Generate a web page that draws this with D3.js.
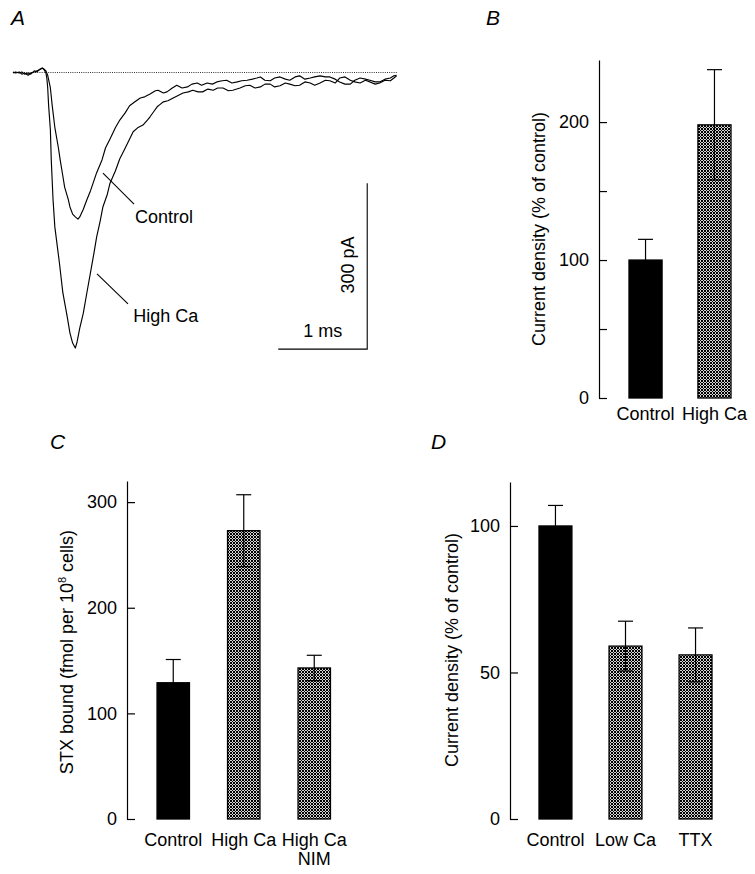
<!DOCTYPE html>
<html><head><meta charset="utf-8">
<script src="https://cdn.jsdelivr.net/npm/d3@7"></script>
<style>
body{margin:0;background:#fff}
svg{display:block}
text{font-family:"Liberation Sans",Arial,Helvetica,sans-serif;fill:#000}
</style>
</head><body>
<svg id="chart" width="755" height="874"></svg>
<script>
// ---------- Panel A: current traces [time (ms), current (pA)] ----------
const traceHighCa = [[0.00,1],[0.03,-1],[0.07,1],[0.10,-3],[0.13,-1],[0.17,-5],[0.20,-1],[0.24,1],[0.27,3],[0.30,5],[0.33,8],[0.35,5],[0.37,-1],[0.38,-10],[0.39,-28],[0.40,-59],[0.42,-104],[0.43,-158],[0.45,-230],[0.47,-279],[0.52,-342],[0.56,-398],[0.61,-442],[0.64,-471],[0.67,-489],[0.70,-498],[0.72,-487],[0.75,-462],[0.79,-435],[0.83,-398],[0.87,-362],[0.91,-326],[0.94,-297],[0.98,-268],[1.01,-243],[1.06,-220],[1.09,-200],[1.15,-178],[1.20,-156],[1.25,-140],[1.29,-127],[1.35,-107],[1.40,-100],[1.46,-95],[1.51,-86],[1.54,-80],[1.58,-71],[1.62,-62],[1.65,-58],[1.69,-53],[1.74,-51],[1.80,-46],[1.85,-42],[1.91,-37],[1.97,-35],[2.02,-32],[2.08,-35],[2.13,-35],[2.19,-30],[2.25,-32],[2.30,-28],[2.36,-28],[2.42,-33],[2.47,-32],[2.55,-28],[2.61,-24],[2.66,-23],[2.72,-28],[2.78,-26],[2.83,-21],[2.89,-21],[2.94,-26],[3.00,-24],[3.06,-19],[3.11,-21],[3.17,-24],[3.22,-23],[3.28,-17],[3.34,-19],[3.39,-23],[3.45,-19],[3.51,-14],[3.56,-15],[3.62,-19],[3.67,-10],[3.73,-8],[3.79,-14],[3.84,-17],[3.90,-19],[3.96,-14],[4.01,-17],[4.07,-21],[4.12,-19],[4.18,-14],[4.24,-15],[4.28,-10],[4.31,-6]];
const traceControl = [[0.00,-1],[0.03,1],[0.07,-1],[0.10,1],[0.13,-3],[0.17,-1],[0.20,-3],[0.24,3],[0.27,1],[0.30,6],[0.33,8],[0.35,6],[0.37,3],[0.39,-5],[0.42,-28],[0.44,-59],[0.47,-99],[0.51,-136],[0.53,-158],[0.56,-187],[0.58,-207],[0.62,-229],[0.64,-243],[0.67,-256],[0.70,-261],[0.73,-265],[0.75,-261],[0.79,-247],[0.83,-230],[0.87,-214],[0.90,-200],[0.94,-181],[1.00,-158],[1.04,-136],[1.09,-120],[1.15,-100],[1.20,-86],[1.26,-73],[1.31,-60],[1.37,-53],[1.43,-46],[1.48,-44],[1.54,-39],[1.60,-33],[1.63,-32],[1.69,-37],[1.73,-35],[1.79,-28],[1.84,-23],[1.90,-28],[1.96,-26],[2.01,-21],[2.07,-19],[2.12,-23],[2.18,-19],[2.24,-21],[2.29,-17],[2.35,-15],[2.40,-14],[2.46,-19],[2.52,-17],[2.57,-15],[2.63,-14],[2.69,-12],[2.74,-10],[2.78,-8],[2.83,-14],[2.89,-15],[2.94,-10],[3.00,-8],[3.06,-12],[3.11,-14],[3.17,-8],[3.22,-6],[3.28,-12],[3.34,-10],[3.39,-8],[3.45,-6],[3.51,-8],[3.56,-8],[3.62,-12],[3.67,-17],[3.73,-21],[3.79,-21],[3.84,-14],[3.90,-10],[3.96,-12],[4.01,-14],[4.07,-17],[4.12,-17],[4.18,-12],[4.24,-10],[4.28,-6],[4.31,-5]];
const traceEnd = 4.315;
const scaleBarTime = 1;      // ms
const scaleBarCurrent = 300; // pA

// ---------- Panel B ----------
const catsB = ["Control", "High Ca"];
const meanB = [100, 198];
const errB = [15, 40];
const ticksB = [0, 50, 100, 150, 200];
const tickLabelsB = [0, 100, 200];

// ---------- Panel C ----------
const catsC = ["Control", "High Ca", "High Ca\nNIM"];
const meanC = [129, 273, 143];
const errC = [22, 34, 12];
const ticksC = [0, 100, 200, 300];

// ---------- Panel D ----------
const catsD = ["Control", "Low Ca", "TTX"];
const meanD = [100, 59, 56];
const errD = [7, 8.5, 9.2];
const ticksD = [0, 50, 100];

const svg = d3.select("#chart");
const FS = 18;

// cross-hatch pattern (pixel-crisp)
const defs = svg.append("defs");
const pat = defs.append("pattern").attr("id", "hatch")
  .attr("patternUnits", "userSpaceOnUse").attr("width", 3).attr("height", 3);
pat.append("rect").attr("width", 3).attr("height", 3).attr("fill", "#d4d4d4");
pat.append("path").attr("d", "M0,0h1v1h-1zM1,1h1v1h-1zM2,2h1v1h-1zM2,0h1v1h-1zM0,2h1v1h-1z")
  .attr("fill", "#000").attr("shape-rendering", "crispEdges");

// ---------- Panel A drawing ----------
const xA = d3.scaleLinear().domain([0, 1]).range([13, 102]);
const yA = d3.scaleLinear().domain([0, -300]).range([72.5, 238.5]);
const gA = svg.append("g");
const lineA = d3.line().x(d => xA(d[0])).y(d => yA(d[1]));

gA.append("line")
  .attr("x1", xA(0)).attr("x2", xA(traceEnd)).attr("y1", yA(0)).attr("y2", yA(0))
  .attr("stroke", "#333").attr("stroke-width", 1).attr("stroke-dasharray", "1,1.2");
[traceControl, traceHighCa].forEach(tr => {
  gA.append("path").datum(tr).attr("d", lineA)
    .attr("fill", "none").attr("stroke", "#000").attr("stroke-width", 1.15)
    .attr("stroke-linejoin", "round");
});
// leader lines and labels
const leaders = [
  {from: [1.011, -182], to: [1.36, -238], label: "Control", at: [1.37, -272]},
  {from: [0.944, -364], to: [1.292, -418], label: "High Ca", at: [1.35, -451]}
];
leaders.forEach(l => {
  gA.append("line").attr("x1", xA(l.from[0])).attr("y1", yA(l.from[1]))
    .attr("x2", xA(l.to[0])).attr("y2", yA(l.to[1]))
    .attr("stroke", "#000").attr("stroke-width", 1.1);
  gA.append("text").attr("x", xA(l.at[0])).attr("y", yA(l.at[1]))
    .attr("font-size", FS).text(l.label);
});
// scale bars
const sbT0 = 2.98, sbI0 = -500;
gA.append("path")
  .attr("d", `M${xA(sbT0)},${yA(sbI0)}H${xA(sbT0 + scaleBarTime)}V${yA(sbI0 + scaleBarCurrent)}`)
  .attr("fill", "none").attr("stroke", "#000").attr("stroke-width", 1.1);
gA.append("text").attr("x", xA(sbT0 + scaleBarTime / 2)).attr("y", yA(-478))
  .attr("text-anchor", "middle").attr("font-size", FS).text(scaleBarTime + " ms");
gA.append("text")
  .attr("transform", `translate(${xA(3.83)},${yA(sbI0 + scaleBarCurrent / 2 + 2)}) rotate(-90)`)
  .attr("text-anchor", "middle").attr("font-size", FS).text(scaleBarCurrent + " pA");

// ---------- Bar panels ----------
function barPanel(o) {
  const g = svg.append("g");
  const x = d3.scaleBand().domain(o.cats).range([o.x0, o.x1])
    .paddingInner(o.pIn).paddingOuter(o.pOut);
  const y = d3.scaleLinear().domain([0, o.yMax]).range([o.yBottom, o.yTop]);
  const axis = d3.axisLeft(y).tickValues(o.ticks).tickSizeInner(-8).tickSizeOuter(0).tickPadding(10)
    .tickFormat(d => (o.labels ? (o.labels.includes(d) ? d : "") : d));
  const ag = g.append("g").attr("transform", `translate(${o.x0},0)`).call(axis);
  ag.selectAll("path,line").attr("stroke", "#000").attr("stroke-width", 1.2);
  ag.selectAll("text").attr("font-size", FS).attr("font-family", '"Liberation Sans",Arial,sans-serif').attr("fill", "#000");

  o.cats.forEach((c, i) => {
    const bx = x(c), bw = x.bandwidth();
    const fill = i === 0 ? "#000" : "url(#hatch)";
    g.append("rect").attr("x", bx).attr("y", y(o.mean[i]))
      .attr("width", bw).attr("height", y(0) - y(o.mean[i]))
      .attr("fill", fill).attr("stroke", "#000").attr("stroke-width", 1.3);
    const cx = bx + bw / 2;
    const hi = y(o.mean[i] + o.err[i]), lo = y(o.mean[i] - o.err[i]);
    g.append("line").attr("x1", cx).attr("x2", cx).attr("y1", hi).attr("y2", lo)
      .attr("stroke", "#000").attr("stroke-width", 1.2);
    [hi, lo].forEach(yy => g.append("line").attr("x1", cx - 7.5).attr("x2", cx + 7.5)
      .attr("y1", yy).attr("y2", yy).attr("stroke", "#000").attr("stroke-width", 1.2));
    const lines = c.split("\n");
    lines.forEach((t, k) => {
      g.append("text").attr("x", cx).attr("y", o.labelY + k * 19)
        .attr("text-anchor", "middle").attr("font-size", FS).text(t);
    });
  });
  const yl = g.append("text")
    .attr("transform", `translate(${o.ylabX},${o.ylabY}) rotate(-90)`)
    .attr("text-anchor", "middle").attr("font-size", FS);
  o.ylabel.forEach(part => {
    const ts = yl.append("tspan").text(part.t);
    if (part.sup) ts.attr("font-size", 11).attr("dy", -7);
    if (part.after) ts.attr("dy", 7);
  });
  g.append("text").attr("x", o.letter[1]).attr("y", o.letter[2])
    .attr("font-size", 21).attr("font-style", "italic").text(o.letter[0]);
}

barPanel({
  cats: catsB, mean: meanB, err: errB, ticks: ticksB, labels: tickLabelsB,
  x0: 599, x1: 761, pIn: 0.52, pOut: 0.435, yMax: 245, yBottom: 398, yTop: 60,
  labelY: 420, ylabX: 545, ylabY: 229,
  ylabel: [{t: "Current density (% of control)"}], letter: ["B", 486, 25]
});
barPanel({
  cats: catsC, mean: meanC, err: errC, ticks: ticksC,
  x0: 127, x1: 360.5, pIn: 0.54, pOut: 0.426, yMax: 320, yBottom: 819, yTop: 481,
  labelY: 846, ylabX: 73, ylabY: 652,
  ylabel: [{t: "STX bound (fmol per 10"}, {t: "8", sup: true}, {t: " cells)", after: true}],
  letter: ["C", 50, 449]
});
barPanel({
  cats: catsD, mean: meanD, err: errD, ticks: ticksD,
  x0: 510, x1: 741, pIn: 0.53, pOut: 0.414, yMax: 115, yBottom: 819, yTop: 482,
  labelY: 846, ylabX: 458, ylabY: 650,
  ylabel: [{t: "Current density (% of control)"}], letter: ["D", 431, 449]
});
svg.append("text").attr("x", 11).attr("y", 25).attr("font-size", 21)
  .attr("font-style", "italic").text("A");
</script>
</body></html>
